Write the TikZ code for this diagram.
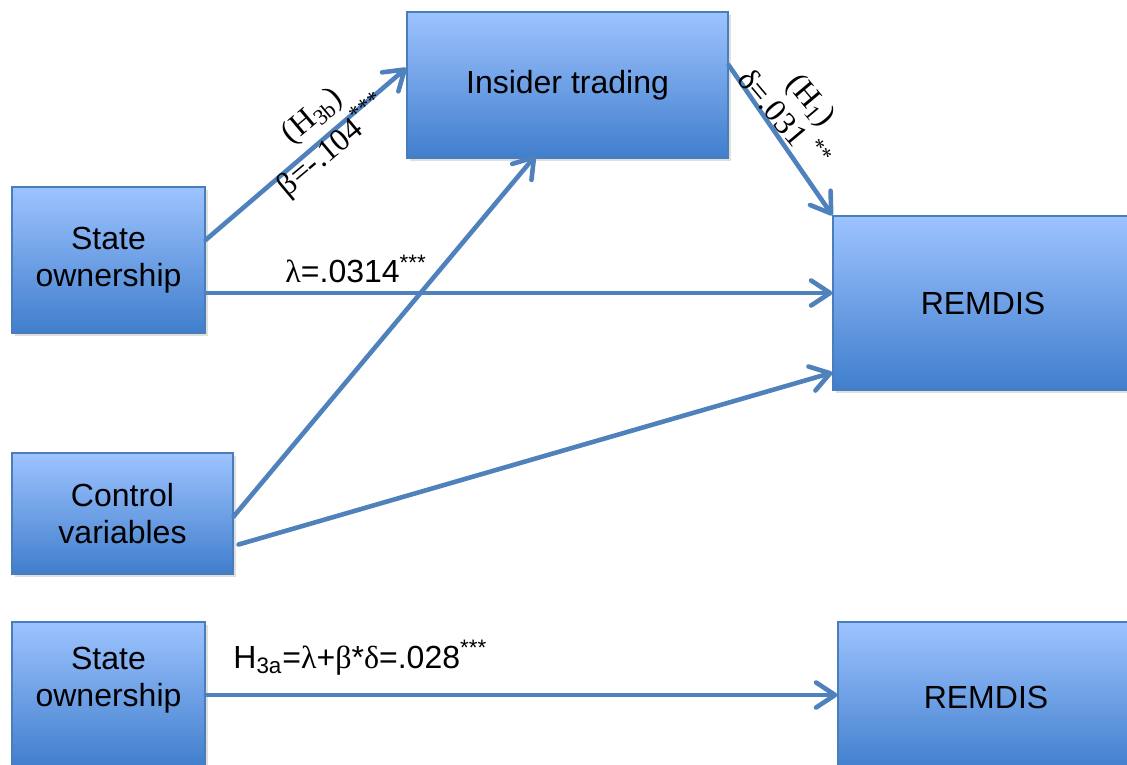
\documentclass[tikz,border=0pt]{standalone}
\usepackage{fontspec}
\setmainfont{Liberation Sans}
\newfontfamily\tnr{Liberation Serif}
\usetikzlibrary{arrows.meta,calc,shadows}
\definecolor{boxtop}{RGB}{157,195,255}
\definecolor{boxbot}{RGB}{64,126,204}
\definecolor{boxline}{RGB}{74,126,187}
\definecolor{arrowc}{RGB}{79,129,189}
\begin{document}
\begin{tikzpicture}[x=0.5pt,y=-0.5pt,
  box/.style={draw=boxline, line width=0.6pt, top color=boxtop, bottom color=boxbot,
    inner sep=0pt, align=center, font=\fontsize{16}{18.5}\selectfont,
    drop shadow={shadow xshift=1.5pt,shadow yshift=-1.5pt,opacity=0.25}},
  conn/.style={draw=arrowc, line width=2.3pt, line cap=round,
    -{Straight Barb[length=9.5pt,width=12.5pt,line cap=round,line join=round]}},
  lbl/.style={font=\fontsize{16}{18.5}\selectfont, inner sep=0pt},
  tlbl/.style={font=\tnr\fontsize{16}{18.5}\selectfont, inner sep=0pt},
  boxtext/.style={align=center, font=\fontsize{16}{18.5}\selectfont, inner sep=0pt}
]
\useasboundingbox (0,0) rectangle (1127,764);
\clip (0,0) rectangle (1127,764);

% boxes
\node[box, minimum width=96.5pt, minimum height=73pt] (so1) at (108.5,260) {State\\ownership};
\node[box, minimum width=160.5pt, minimum height=73pt] (it) at (567.5,85) {Insider trading};
\node[box, minimum width=150pt, minimum height=87pt] (rem1) at (983,303) {REMDIS};
\node[box, minimum width=110.5pt, minimum height=60.5pt] (cv) at (122.5,513.5) {Control\\variables};
\node[box, minimum width=96.5pt, minimum height=73pt] (so2) at (108.5,695) {};
\node[boxtext] (so2t) at (108.5,680) {State\\ownership};
\node[box, minimum width=148pt, minimum height=75pt] (rem2) at (986,697) {REMDIS};

% connectors
\draw[conn] ($(so1.east)+(0,-20)$) -- ($(it.west)+(0,-17)$);
\draw[conn] ($(so1.east)+(0,33)$) -- ($(rem1.west)+(0,-10)$);
\draw[conn] ($(it.east)+(0,-20)$) -- (rem1.north west);
\draw[conn] ($(cv.east)+(0,3)$) -- ($(it.south)+(-32,-3)$);
\draw[conn] ($(cv.east)+(5,31)$) -- ($(rem1.south west)+(0,-18)$);
\draw[conn] (so2.east) -- (so2.east -| rem2.west);

% labels
\node[tlbl, rotate=40] (lh3b) at (313,117) {(H\textsubscript{3b})};
\node[tlbl, rotate=40] (lbeta) at (333,146) {β=-.104\textsuperscript{***}};
\node[tlbl, rotate=-50] (ldelta) at (785,118) {δ=.031 \textsuperscript{**}};
\node[tlbl, rotate=-50] (lh1) at (810,101) {(H\textsubscript{1})};
\node[lbl, anchor=base west] (llam) at (285,283) {{\tnr λ}=.0314\textsuperscript{***}};
\node[lbl, anchor=base west] (lh3a) at (233,668) {H\textsubscript{3a}={\tnr λ}+{\tnr β}*{\tnr δ}=.028\textsuperscript{***}};
\end{tikzpicture}
\end{document}
